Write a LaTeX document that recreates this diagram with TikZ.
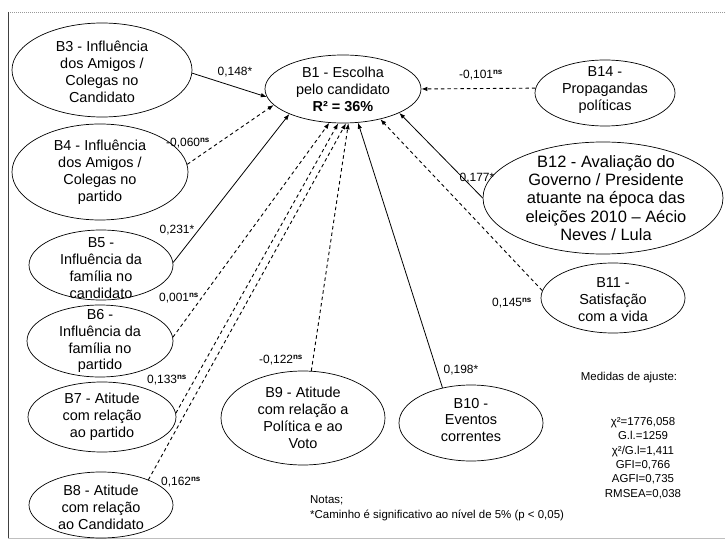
\documentclass[tikz,border=0pt]{standalone}
\usepackage{fontspec}
\setmainfont{Liberation Sans}
\usetikzlibrary{shapes.geometric,arrows.meta}
\begin{document}
\begin{tikzpicture}[x=1bp,y=-1bp,
  lat/.style={draw=black, line width=0.7bp, ellipse, inner sep=0pt},
  txt/.style={align=center, font=\fontsize{14.5}{17}\selectfont, inner sep=0pt},
  bigtxt/.style={align=center, font=\fontsize{16.5}{18.5}\selectfont, inner sep=0pt},
  lbl/.style={font=\fontsize{12}{14}\selectfont, inner sep=0pt},
  notes/.style={font=\fontsize{11.5}{14.5}\selectfont, inner sep=0pt},
  sig/.style={draw=black, line width=0.8bp, -{Latex[length=6bp,width=4.5bp]}},
  nsig/.style={draw=black, line width=0.9bp, dash pattern=on 3.5bp off 3bp, -{Latex[length=6bp,width=4.5bp]}},
]
\useasboundingbox[fill=white] (0,0) rectangle (725,545);
% frame
\coordinate (tl) at (8,12);
\coordinate (tr) at (725,12);
\coordinate (bl) at (8,538);
\coordinate (br) at (725,538);
\draw[gray!80, line width=0.7bp, dash pattern=on 1bp off 1bp] (tl) -- (tr);
\draw[black!75, line width=1bp] (tl) -- (bl);
\draw[gray!50, line width=0.8bp] (bl) -- (br);

% latent variables
\node[lat, minimum width=156bp, minimum height=68bp] (B1) at (343,89) {};
\node[txt] (B1t) at (343,89) {B1 - Escolha\\pelo candidato\\\textbf{R² = 36\%}};
\node[lat, minimum width=180bp, minimum height=94bp] (B3) at (102,70) {};
\node[txt] (B3t) at (102,72) {B3 - Influência\\dos Amigos /\\Colegas no\\Candidato};
\node[lat, minimum width=176bp, minimum height=96bp] (B4) at (100,172) {};
\node[txt] (B4t) at (100,172) {B4 - Influência\\dos Amigos /\\Colegas no\\partido};
\node[lat, minimum width=144bp, minimum height=70bp] (B5) at (101,265) {};
\node[txt] (B5t) at (101,268) {B5 -\\Influência da\\família no\\candidato};
\node[lat, minimum width=146bp, minimum height=72bp] (B6) at (100,341) {};
\node[txt] (B6t) at (100,341) {B6 -\\Influência da\\família no\\partido};
\node[lat, minimum width=148bp, minimum height=70bp] (B7) at (102,417) {};
\node[txt] (B7t) at (102,417) {B7 - Atitude\\com relação\\ao partido};
\node[lat, minimum width=144bp, minimum height=66bp] (B8) at (101,505) {};
\node[txt] (B8t) at (101,507) {B8 - Atitude\\com relação\\ao Candidato};
\node[lat, minimum width=164bp, minimum height=94bp] (B9) at (303,418) {};
\node[txt] (B9t) at (303,418) {B9 - Atitude\\com relação a\\Política e ao\\Voto};
\node[lat, minimum width=144bp, minimum height=76bp] (B10) at (471,423) {};
\node[txt] (B10t) at (471,420) {B10 -\\Eventos\\correntes};
\node[lat, minimum width=144bp, minimum height=70bp] (B11) at (613,298) {};
\node[txt] (B11t) at (613,300) {B11 -\\Satisfação\\com a vida};
\node[lat, minimum width=240bp, minimum height=112bp] (B12) at (603,198) {};
\node[bigtxt] (B12t) at (606,198) {B12 - Avaliação do\\Governo / Presidente\\atuante na época das\\eleições 2010 – Aécio\\Neves / Lula};
\node[lat, minimum width=140bp, minimum height=66bp] (B14) at (605,93) {};
\node[txt] (B14t) at (605,90) {B14 -\\Propagandas\\políticas};

% paths
\draw[sig] (B3.358) -- (B1.186);
\draw[nsig] (B4.5) -- (B1.193);
\draw[sig] (B5.2) -- (B1.205);
\draw[nsig] (B6.3) -- (B1.248);
\draw[nsig] (B7.3) -- (B1.262);
\draw[nsig] (B8.28) -- (B1.275);
\draw[nsig] (B9.80) -- (B1.279);
\draw[sig] (B10.129) -- (B1.294);
\draw[nsig] (B11.174) -- (B1.321);
\draw[sig] (B12.180) -- (B1.337);
\draw[nsig] (B14.176) -- (B1.east);

% path labels
\node[lbl] (l3) at (235,72) {0,148*};
\node[lbl] (l4) at (188,143) {-0,060\textsuperscript{\textbf{ns}}};
\node[lbl] (l5) at (177,230) {0,231*};
\node[lbl] (l6) at (179,298) {0,001\textsuperscript{\textbf{ns}}};
\node[lbl] (l7) at (167,380) {0,133\textsuperscript{\textbf{ns}}};
\node[lbl] (l8) at (181,482) {0,162\textsuperscript{\textbf{ns}}};
\node[lbl] (l9) at (281,360) {-0,122\textsuperscript{\textbf{ns}}};
\node[lbl] (l10) at (461,370) {0,198*};
\node[lbl] (l11) at (512,303) {0,145\textsuperscript{\textbf{ns}}};
\node[lbl] (l12) at (477,178) {0,177*};
\node[lbl] (l14) at (481,75) {-0,101\textsuperscript{\textbf{ns}}};

% notes and fit indices
\node[notes, anchor=west] (n1) at (310,500) {Notas;};
\node[notes, anchor=west] (n2) at (310,515) {*Caminho é significativo ao nível de 5\% (p < 0,05)};
\node[notes] (fitt) at (629,378) {Medidas de ajuste:};
\node[notes, align=center] (fit) at (643,458) {χ²=1776,058\\G.l.=1259\\χ²/G.l=1,411\\GFI=0,766\\AGFI=0,735\\RMSEA=0,038};
\end{tikzpicture}
\end{document}
